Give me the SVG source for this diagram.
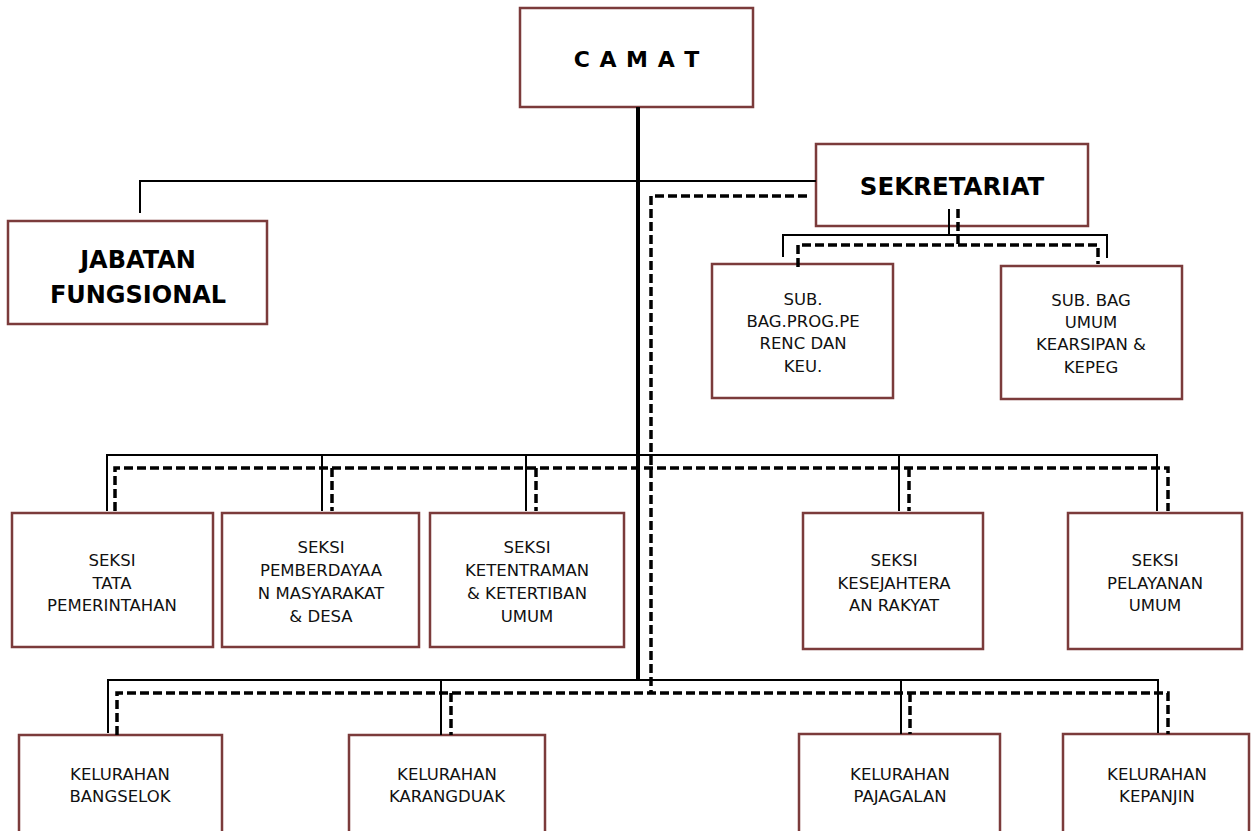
<svg xmlns="http://www.w3.org/2000/svg" width="1251" height="831" viewBox="0 0 1251 831">
<style>
.box{fill:#ffffff;stroke:#7b3b3b;stroke-width:2.5}
.inner{fill:none;stroke:#c9a3a3;stroke-width:1}
.t{font-family:"DejaVu Sans",Verdana,sans-serif;font-size:16.5px;fill:#111;text-anchor:middle}
.b{font-family:"DejaVu Sans",Verdana,sans-serif;font-weight:bold;fill:#000;text-anchor:middle}
.solid{fill:none;stroke:#000;stroke-width:2}
.main{fill:none;stroke:#000;stroke-width:4}
.dash{fill:none;stroke:#000;stroke-width:3.5;stroke-dasharray:9 4}
</style>
<rect width="1251" height="831" fill="#ffffff"/>
<g id="camat"><rect class="box" x="520" y="8" width="233" height="99"/><text class="b" x="637" y="67" font-size="22" letter-spacing="1">C A M A T</text></g>
<g id="sekretariat"><rect class="box" x="816" y="144" width="272" height="82"/><text class="b" x="952" y="195" font-size="24.5">SEKRETARIAT</text></g>
<g id="jabatan"><rect class="box" x="8" y="221" width="259" height="103"/><text class="b" x="138" y="268" font-size="24">JABATAN</text><text class="b" x="138" y="303" font-size="24">FUNGSIONAL</text></g>
<g id="subbag-prog"><rect class="box" x="712" y="264" width="181" height="134"/><text class="t" x="803" y="305">SUB.</text><text class="t" x="803" y="327">BAG.PROG.PE</text><text class="t" x="803" y="349">RENC DAN</text><text class="t" x="803" y="372">KEU.</text></g>
<g id="subbag-umum"><rect class="box" x="1001" y="266" width="181" height="133"/><text class="t" x="1091" y="306">SUB. BAG</text><text class="t" x="1091" y="328">UMUM</text><text class="t" x="1091" y="350">KEARSIPAN &amp;</text><text class="t" x="1091" y="373">KEPEG</text></g>
<g id="seksi-tata"><rect class="box" x="12" y="513" width="201" height="134"/><text class="t" x="112" y="566">SEKSI</text><text class="t" x="112" y="588.5">TATA</text><text class="t" x="112" y="611">PEMERINTAHAN</text></g>
<g id="seksi-pemberdayaan"><rect class="box" x="222" y="513" width="197" height="134"/><text class="t" x="321" y="553">SEKSI</text><text class="t" x="321" y="576">PEMBERDAYAA</text><text class="t" x="321" y="599">N MASYARAKAT</text><text class="t" x="321" y="622">&amp; DESA</text></g>
<g id="seksi-ketentraman"><rect class="box" x="430" y="513" width="194" height="134"/><text class="t" x="527" y="553">SEKSI</text><text class="t" x="527" y="576">KETENTRAMAN</text><text class="t" x="527" y="599">&amp; KETERTIBAN</text><text class="t" x="527" y="622">UMUM</text></g>
<g id="seksi-kesejahteraan"><rect class="box" x="803" y="513" width="180" height="136"/><text class="t" x="894" y="566">SEKSI</text><text class="t" x="894" y="588.5">KESEJAHTERA</text><text class="t" x="894" y="611">AN RAKYAT</text></g>
<g id="seksi-pelayanan"><rect class="box" x="1068" y="513" width="174" height="136"/><text class="t" x="1155" y="566">SEKSI</text><text class="t" x="1155" y="588.5">PELAYANAN</text><text class="t" x="1155" y="611">UMUM</text></g>
<g id="kel-bangselok"><rect class="box" x="19" y="735" width="203" height="115"/><text class="t" x="120" y="780">KELURAHAN</text><text class="t" x="120" y="802">BANGSELOK</text></g>
<g id="kel-karangduak"><rect class="box" x="349" y="735" width="196" height="115"/><text class="t" x="447" y="780">KELURAHAN</text><text class="t" x="447" y="802">KARANGDUAK</text></g>
<g id="kel-pajagalan"><rect class="box" x="799" y="734" width="201" height="115"/><text class="t" x="900" y="780">KELURAHAN</text><text class="t" x="900" y="802">PAJAGALAN</text></g>
<g id="kel-kepanjin"><rect class="box" x="1063" y="734" width="186" height="115"/><text class="t" x="1157" y="780">KELURAHAN</text><text class="t" x="1157" y="802">KEPANJIN</text></g>
<g id="connectors">
<path class="main" d="M638,107 V680"/>
<path class="solid" d="M140,213 V181 H816"/>
<path class="solid" d="M949,209 V235 M783,257 V235 H1107 V258"/>
<path class="solid" d="M107,511 V455 H1157 V511 M322,455 V511 M526,455 V511 M899,455 V511"/>
<path class="solid" d="M108,733 V680 H1158 V733 M441,680 V735 M901,680 V734"/>
<path class="dash" d="M807,196 H651 V693"/>
<path class="dash" d="M958,209 V245 M798,267 V245 H1098 V264"/>
<path class="dash" d="M115,511 V468 H1168 V511 M332,468 V511 M536,468 V511 M909,468 V511"/>
<path class="dash" d="M117,735 V693 H1168 V734 M451,693 V735 M910,693 V734"/>
</g>
</svg>
